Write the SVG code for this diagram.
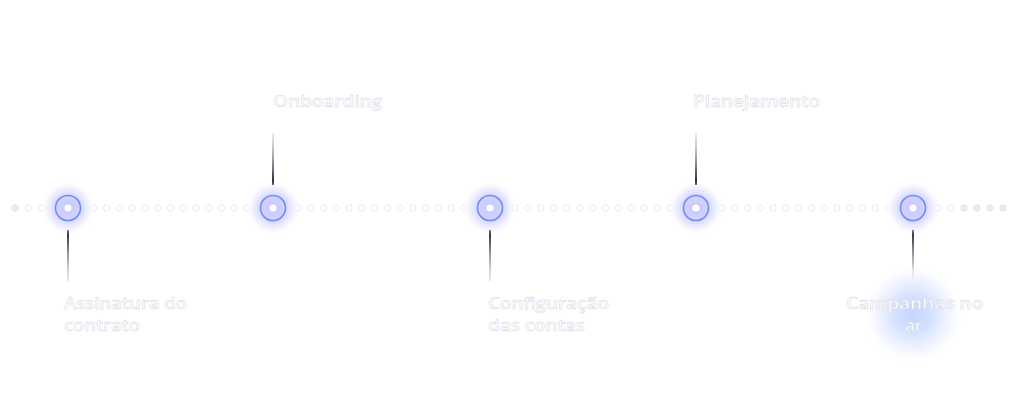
<svg xmlns="http://www.w3.org/2000/svg" width="1024" height="416" viewBox="0 0 1024 416">
<defs>
<radialGradient id="glow" cx="0.5" cy="0.5" r="0.5">
<stop offset="0" stop-color="#c4c4ff"/>
<stop offset="0.45" stop-color="#d4d4ff"/>
<stop offset="0.75" stop-color="#eaeaff" stop-opacity="0.7"/>
<stop offset="1" stop-color="#ffffff" stop-opacity="0"/>
</radialGradient>
<radialGradient id="bigglow" cx="0.5" cy="0.5" r="0.5">
<stop offset="0" stop-color="#c2d6ff"/>
<stop offset="0.4" stop-color="#d6e2ff"/>
<stop offset="0.75" stop-color="#eef2ff" stop-opacity="0.7"/>
<stop offset="1" stop-color="#ffffff" stop-opacity="0"/>
</radialGradient>
<linearGradient id="down" x1="0" y1="0" x2="0" y2="1">
<stop offset="0" stop-color="#15152e"/>
<stop offset="1" stop-color="#b8b8c8" stop-opacity="0.3"/>
</linearGradient>
<linearGradient id="up" x1="0" y1="1" x2="0" y2="0">
<stop offset="0" stop-color="#15152e"/>
<stop offset="1" stop-color="#b8b8c8" stop-opacity="0.3"/>
</linearGradient>
</defs>
<style>
.dot{fill:#ffffff;stroke:#dcdce4;stroke-width:0.6}
.dotg{fill:#ececf0;stroke:#dcdce4;stroke-width:0.6}
.glow{fill:url(#glow)}
.ring{fill:none;stroke:#6e8cff;stroke-width:1.6}
.core{fill:#ffffff}
.lbl{font-family:"Open Sans","Liberation Sans",sans-serif;font-size:16.5px;font-weight:600;fill:#ffffff;stroke:#d2d2dc;stroke-width:0.45}
</style>
<rect width="1024" height="416" fill="#ffffff"/>
<g id="track">
<circle class="dotg" cx="15" cy="208" r="3.2"/><circle class="dot" cx="28.5" cy="208" r="3.2"/><circle class="dot" cx="42" cy="208" r="3.2"/>
<circle class="dot" cx="94" cy="208" r="3.2"/><circle class="dot" cx="106.75" cy="208" r="3.2"/><circle class="dot" cx="119.5" cy="208" r="3.2"/><circle class="dot" cx="132.25" cy="208" r="3.2"/><circle class="dot" cx="145" cy="208" r="3.2"/><circle class="dot" cx="157.75" cy="208" r="3.2"/><circle class="dot" cx="170.5" cy="208" r="3.2"/><circle class="dot" cx="183.25" cy="208" r="3.2"/><circle class="dot" cx="196" cy="208" r="3.2"/><circle class="dot" cx="208.75" cy="208" r="3.2"/><circle class="dot" cx="221.5" cy="208" r="3.2"/><circle class="dot" cx="234.25" cy="208" r="3.2"/><circle class="dot" cx="247" cy="208" r="3.2"/>
<circle class="dot" cx="298" cy="208" r="3.2"/><circle class="dot" cx="310.8" cy="208" r="3.2"/><circle class="dot" cx="323.5" cy="208" r="3.2"/><circle class="dot" cx="336.3" cy="208" r="3.2"/><circle class="dot" cx="349.1" cy="208" r="3.2"/><circle class="dot" cx="361.8" cy="208" r="3.2"/><circle class="dot" cx="374.6" cy="208" r="3.2"/><circle class="dot" cx="387.4" cy="208" r="3.2"/><circle class="dot" cx="400.2" cy="208" r="3.2"/><circle class="dot" cx="412.9" cy="208" r="3.2"/><circle class="dot" cx="425.7" cy="208" r="3.2"/><circle class="dot" cx="438.5" cy="208" r="3.2"/><circle class="dot" cx="451.2" cy="208" r="3.2"/><circle class="dot" cx="464" cy="208" r="3.2"/>
<circle class="dot" cx="515" cy="208" r="3.2"/><circle class="dot" cx="527.9" cy="208" r="3.2"/><circle class="dot" cx="540.8" cy="208" r="3.2"/><circle class="dot" cx="553.8" cy="208" r="3.2"/><circle class="dot" cx="566.7" cy="208" r="3.2"/><circle class="dot" cx="579.6" cy="208" r="3.2"/><circle class="dot" cx="592.5" cy="208" r="3.2"/><circle class="dot" cx="605.4" cy="208" r="3.2"/><circle class="dot" cx="618.3" cy="208" r="3.2"/><circle class="dot" cx="631.3" cy="208" r="3.2"/><circle class="dot" cx="644.2" cy="208" r="3.2"/><circle class="dot" cx="657.1" cy="208" r="3.2"/><circle class="dot" cx="670" cy="208" r="3.2"/>
<circle class="dot" cx="722" cy="208" r="3.2"/><circle class="dot" cx="734.8" cy="208" r="3.2"/><circle class="dot" cx="747.5" cy="208" r="3.2"/><circle class="dot" cx="760.3" cy="208" r="3.2"/><circle class="dot" cx="773.1" cy="208" r="3.2"/><circle class="dot" cx="785.8" cy="208" r="3.2"/><circle class="dot" cx="798.6" cy="208" r="3.2"/><circle class="dot" cx="811.4" cy="208" r="3.2"/><circle class="dot" cx="824.2" cy="208" r="3.2"/><circle class="dot" cx="836.9" cy="208" r="3.2"/><circle class="dot" cx="849.7" cy="208" r="3.2"/><circle class="dot" cx="862.5" cy="208" r="3.2"/><circle class="dot" cx="875.2" cy="208" r="3.2"/><circle class="dot" cx="888" cy="208" r="3.2"/>
<circle class="dot" cx="938" cy="208" r="3.2"/><circle class="dot" cx="951" cy="208" r="3.2"/><circle class="dotg" cx="964" cy="208" r="3.2"/><circle class="dotg" cx="977" cy="208" r="3.2"/><circle class="dotg" cx="990" cy="208" r="3.2"/><circle class="dotg" cx="1003" cy="208" r="3.2"/>
</g>
<g id="connectors">
<rect x="67" y="230" width="2" height="51" fill="url(#down)"/>
<rect x="272" y="133" width="2" height="52" fill="url(#up)"/>
<rect x="489" y="230" width="2" height="51" fill="url(#down)"/>
<rect x="695" y="133" width="2" height="52" fill="url(#up)"/>
<rect x="912" y="230" width="2" height="50" fill="url(#down)"/>
</g>
<g id="node-assinatura">
<circle class="glow" cx="68" cy="208" r="27"/>
<circle class="ring" cx="68" cy="208" r="12.5"/>
<circle class="core" cx="68" cy="208" r="3.6"/>
<text class="lbl" x="64" y="309" textLength="123" lengthAdjust="spacingAndGlyphs">Assinatura do</text>
<text class="lbl" x="64" y="331" textLength="76" lengthAdjust="spacingAndGlyphs">contrato</text>
</g>
<g id="node-onboarding">
<circle class="glow" cx="273" cy="208" r="27"/>
<circle class="ring" cx="273" cy="208" r="12.5"/>
<circle class="core" cx="273" cy="208" r="3.6"/>
<text class="lbl" x="273" y="107" textLength="109" lengthAdjust="spacingAndGlyphs">Onboarding</text>
</g>
<g id="node-configuracao">
<circle class="glow" cx="490" cy="208" r="27"/>
<circle class="ring" cx="490" cy="208" r="12.5"/>
<circle class="core" cx="490" cy="208" r="3.6"/>
<text class="lbl" x="488" y="309" textLength="121" lengthAdjust="spacingAndGlyphs">Configuração</text>
<text class="lbl" x="488" y="331" textLength="97" lengthAdjust="spacingAndGlyphs">das contas</text>
</g>
<g id="node-planejamento">
<circle class="glow" cx="696" cy="208" r="27"/>
<circle class="ring" cx="696" cy="208" r="12.5"/>
<circle class="core" cx="696" cy="208" r="3.6"/>
<text class="lbl" x="693" y="107" textLength="127" lengthAdjust="spacingAndGlyphs">Planejamento</text>
</g>
<g id="node-campanhas">
<circle cx="913" cy="314" r="50" fill="url(#bigglow)"/>
<circle class="glow" cx="913" cy="208" r="27"/>
<circle class="ring" cx="913" cy="208" r="12.5"/>
<circle class="core" cx="913" cy="208" r="3.6"/>
<text class="lbl" x="914.5" y="309" text-anchor="middle" textLength="137" lengthAdjust="spacingAndGlyphs">Campanhas no</text>
<text class="lbl" x="913.5" y="331" text-anchor="middle">ar</text>
</g>
</svg>
